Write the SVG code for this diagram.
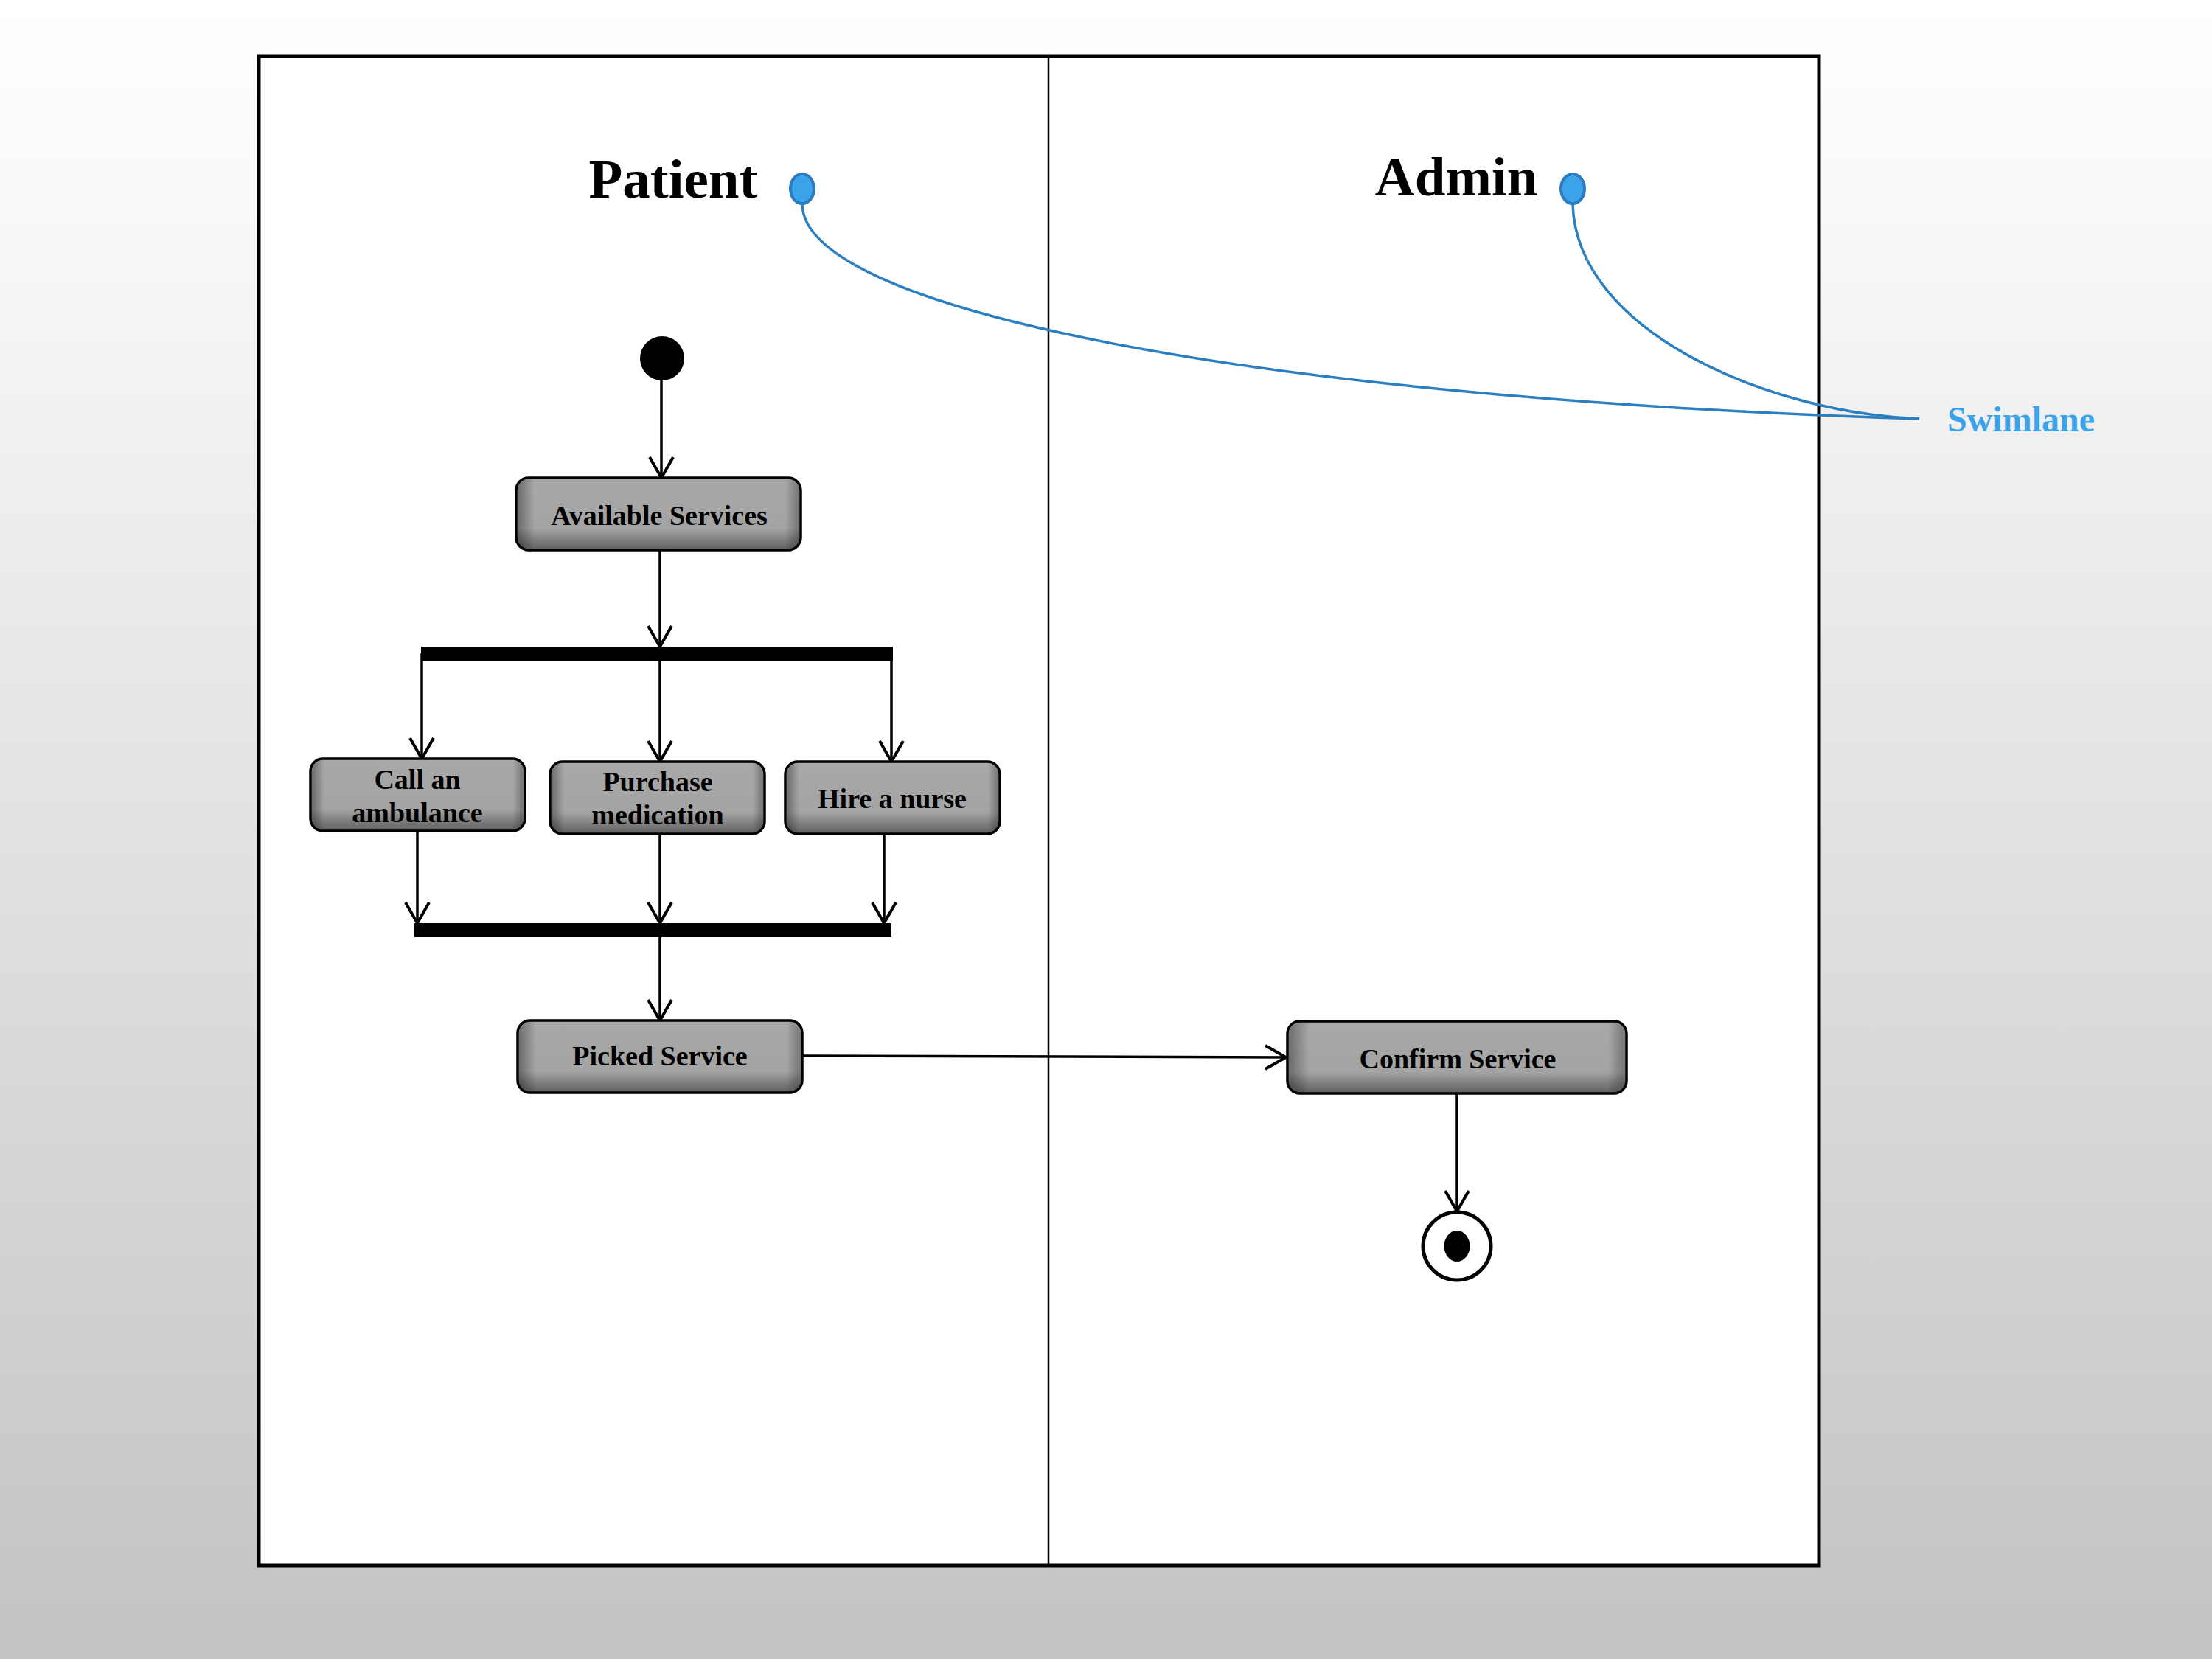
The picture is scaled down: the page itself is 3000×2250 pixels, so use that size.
<svg xmlns="http://www.w3.org/2000/svg" width="3000" height="2250" viewBox="0 0 3000 2250">
<defs>
<linearGradient id="bg" x1="0" y1="0" x2="0" y2="1">
<stop offset="0" stop-color="#ffffff"/>
<stop offset="0.12" stop-color="#f9f9f9"/>
<stop offset="1" stop-color="#c3c3c3"/>
</linearGradient>
<linearGradient id="boxV" x1="0" y1="0" x2="0" y2="1">
<stop offset="0" stop-color="#a8a8a8"/>
<stop offset="0.7" stop-color="#a4a4a4"/>
<stop offset="1" stop-color="#5e5e5e"/>
</linearGradient>
<linearGradient id="boxH" x1="0" y1="0" x2="1" y2="0">
<stop offset="0" stop-color="#000" stop-opacity="0.35"/>
<stop offset="0.06" stop-color="#000" stop-opacity="0"/>
<stop offset="0.95" stop-color="#000" stop-opacity="0"/>
<stop offset="1" stop-color="#000" stop-opacity="0.3"/>
</linearGradient>
<marker id="arr" markerUnits="userSpaceOnUse" viewBox="-32 -20 36 40" markerWidth="36" markerHeight="40" refX="0" refY="0" orient="auto" overflow="visible">
<path d="M-28,-16 L0,0 L-28,16" fill="none" stroke="#000" stroke-width="4" stroke-linejoin="miter"/>
</marker>
</defs>
<style>
.box{stroke:#000;stroke-width:3.5}
.shade{fill:url(#boxH);stroke:none}
.lbl{font-family:"Liberation Serif","Times New Roman",serif;font-weight:bold;font-size:38px;fill:#000;text-anchor:middle}
.lane{font-family:"Liberation Serif","Times New Roman",serif;font-weight:bold;font-size:75px;fill:#000;text-anchor:middle}
.conn{stroke:#000;stroke-width:3.5;fill:none;marker-end:url(#arr)}
.note{stroke:#2b7fc0;stroke-width:3.5;fill:none}
.dot{fill:#3ba3ea;stroke:#2a7bbf;stroke-width:4}
.bar{fill:#000}
</style>
<rect x="0" y="0" width="3000" height="2250" fill="url(#bg)"/>
<g id="frame">
<rect x="351" y="76" width="2116" height="2047" fill="#ffffff" stroke="#000" stroke-width="5"/>
<line x1="1422" y1="76" x2="1422" y2="2123" stroke="#000" stroke-width="2.5"/>
</g>
<g id="lane-patient">
<text class="lane" x="913" y="268">Patient</text>
<ellipse class="dot" cx="1088" cy="256" rx="16" ry="20"/>
</g>
<g id="lane-admin">
<text class="lane" x="1975" y="265">Admin</text>
<ellipse class="dot" cx="2133" cy="256" rx="16" ry="20"/>
</g>
<g id="swimlane-note">
<text x="2641" y="585" font-family="'Liberation Serif','Times New Roman',serif" font-weight="bold" font-size="48" fill="#3ba3ea">Swimlane</text>
</g>
<g id="connectors">
<path class="note" d="M1088,277 C1090,420 1700,540 2603,568"/>
<path class="note" d="M2133,277 C2138,450 2400,560 2603,568"/>
<line class="conn" x1="897" y1="516" x2="897" y2="648"/>
<line class="conn" x1="895" y1="746" x2="895" y2="877"/>
<line class="conn" x1="572" y1="886" x2="572" y2="1029"/>
<line class="conn" x1="895" y1="896" x2="895" y2="1033"/>
<line class="conn" x1="1209" y1="886" x2="1209" y2="1033"/>
<line class="conn" x1="566" y1="1128" x2="566" y2="1252"/>
<line class="conn" x1="895" y1="1117" x2="895" y2="1252"/>
<line class="conn" x1="1199" y1="1131" x2="1199" y2="1252"/>
<line class="conn" x1="895" y1="1271" x2="895" y2="1384"/>
<line class="conn" x1="1089" y1="1432" x2="1744" y2="1434"/>
<line class="conn" x1="1976" y1="1483" x2="1976" y2="1643"/>
</g>
<g id="start">
<circle cx="898" cy="486" r="30" fill="#000"/>
</g>
<g id="available-services">
<rect class="box" x="700" y="648" width="386" height="98" rx="17" fill="url(#boxV)"/>
<rect class="shade" x="702" y="650" width="382" height="94" rx="15"/>
<text class="lbl" x="894" y="712">Available Services</text>
</g>
<g id="fork">
<rect class="bar" x="571" y="877" width="640" height="19"/>
</g>
<g id="call-ambulance">
<rect class="box" x="421" y="1029" width="291" height="98" rx="17" fill="url(#boxV)"/>
<rect class="shade" x="423" y="1031" width="287" height="94" rx="15"/>
<text class="lbl" x="566" y="1070">Call an</text>
<text class="lbl" x="566" y="1115">ambulance</text>
</g>
<g id="purchase-medication">
<rect class="box" x="746" y="1033" width="291" height="98" rx="17" fill="url(#boxV)"/>
<rect class="shade" x="748" y="1035" width="287" height="94" rx="15"/>
<text class="lbl" x="892" y="1073">Purchase</text>
<text class="lbl" x="892" y="1118">medication</text>
</g>
<g id="hire-nurse">
<rect class="box" x="1065" y="1033" width="291" height="98" rx="17" fill="url(#boxV)"/>
<rect class="shade" x="1067" y="1035" width="287" height="94" rx="15"/>
<text class="lbl" x="1210" y="1096">Hire a nurse</text>
</g>
<g id="join">
<rect class="bar" x="562" y="1252" width="647" height="19"/>
</g>
<g id="picked-service">
<rect class="box" x="702" y="1384" width="386" height="98" rx="17" fill="url(#boxV)"/>
<rect class="shade" x="704" y="1386" width="382" height="94" rx="15"/>
<text class="lbl" x="895" y="1445">Picked Service</text>
</g>
<g id="confirm-service">
<rect class="box" x="1746" y="1385" width="460" height="98" rx="17" fill="url(#boxV)"/>
<rect class="shade" x="1748" y="1387" width="456" height="94" rx="15"/>
<text class="lbl" x="1977" y="1449">Confirm Service</text>
</g>
<g id="end">
<circle cx="1976" cy="1690" r="46" fill="#ffffff" stroke="#000" stroke-width="5"/>
<ellipse cx="1976" cy="1690" rx="17.5" ry="21" fill="#000"/>
</g>
</svg>
